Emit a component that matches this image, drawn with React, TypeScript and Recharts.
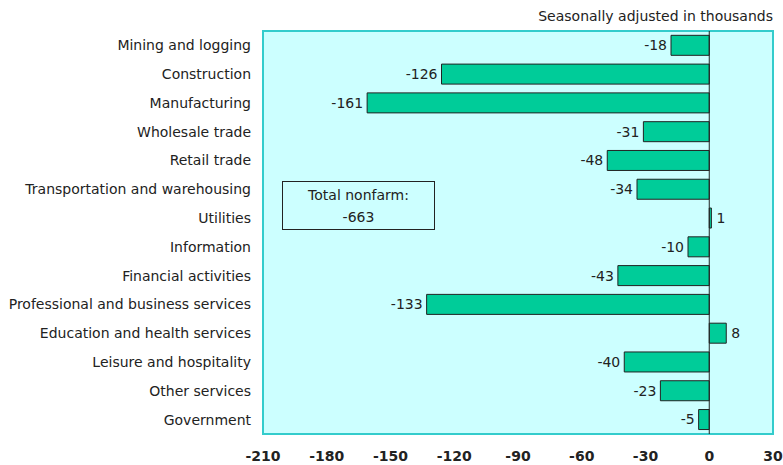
import { BarChart, Bar, XAxis, YAxis, ReferenceArea, ReferenceLine, LabelList } from "recharts";

const industries = [
  "Mining and logging",
  "Construction",
  "Manufacturing",
  "Wholesale trade",
  "Retail trade",
  "Transportation and warehousing",
  "Utilities",
  "Information",
  "Financial activities",
  "Professional and business services",
  "Education and health services",
  "Leisure and hospitality",
  "Other services",
  "Government",
];
const changes = [-18, -126, -161, -31, -48, -34, 1, -10, -43, -133, 8, -40, -23, -5];
const xTicks = [-210, -180, -150, -120, -90, -60, -30, 0, 30];
const totalLabel = "Total nonfarm:";
const totalValue = -663;

const data = industries.map((name, i) => ({ name, value: changes[i] }));

const FONT = "'DejaVu Sans', Verdana, sans-serif";
const INK = "#222222";
const PLOT_BG = "#CCFFFF";
const PLOT_EDGE = "#33CCCC";
const BAR = "#00CC99";

function CategoryTick({ y, payload }: any) {
  return (
    <text x={251} y={y} dy="0.35em" textAnchor="end" fontSize={14} fill={INK} fontFamily={FONT}>
      {payload.value}
    </text>
  );
}

function ValueTick({ x, y, payload }: any) {
  return (
    <text x={x} y={y + 19} textAnchor="middle" fontSize={14} fontWeight="bold" fill={INK} fontFamily={FONT}>
      {payload.value}
    </text>
  );
}

// value sits outside the bar's end: left of negatives, right of positives
function BarValue(props: any) {
  const { x, y, width, height, value } = props;
  const neg = value < 0;
  const tx = neg ? x + width - 4 : x + width + 5;
  return (
    <text x={tx} y={y + height / 2} dy="0.35em" textAnchor={neg ? "end" : "start"} fontSize={14} fill={INK} fontFamily={FONT}>
      {value}
    </text>
  );
}

export default function App() {
  return (
    <div style={{ position: "absolute", left: 0, top: 0, width: 783, height: 465, background: "#fff", fontFamily: FONT }}>
      <div style={{ position: "absolute", right: 10, top: 8, fontSize: 14, color: INK }}>Seasonally adjusted in thousands</div>
      <BarChart
        width={783}
        height={465}
        data={data}
        layout="vertical"
        margin={{ top: 31, right: 10, bottom: 0, left: 0 }}
        barCategoryGap="15%"
      >
        <XAxis
          type="number"
          domain={[-210, 30]}
          ticks={xTicks}
          interval={0}
          axisLine={false}
          tickLine={false}
          height={31}
          tick={<ValueTick />}
        />
        <YAxis type="category" dataKey="name" width={263} axisLine={false} tickLine={false} interval={0} tick={<CategoryTick />} />
        <ReferenceArea x1={-210} x2={30} fill={PLOT_BG} fillOpacity={1} stroke={PLOT_EDGE} strokeWidth={2} ifOverflow="visible" />
        <Bar dataKey="value" fill={BAR} stroke={INK} strokeWidth={1} isAnimationActive={false}>
          <LabelList dataKey="value" content={<BarValue />} />
        </Bar>
        <ReferenceLine x={0} stroke={INK} strokeWidth={1} />
      </BarChart>
      <div
        style={{
          position: "absolute",
          left: 282,
          top: 181,
          width: 151,
          height: 45,
          border: `1px solid ${INK}`,
          background: PLOT_BG,
          fontSize: 14,
          color: INK,
          textAlign: "center",
          lineHeight: "22px",
          paddingTop: 2,
          boxSizing: "content-box",
        }}
      >
        <div>{totalLabel}</div>
        <div>{totalValue}</div>
      </div>
    </div>
  );
}
